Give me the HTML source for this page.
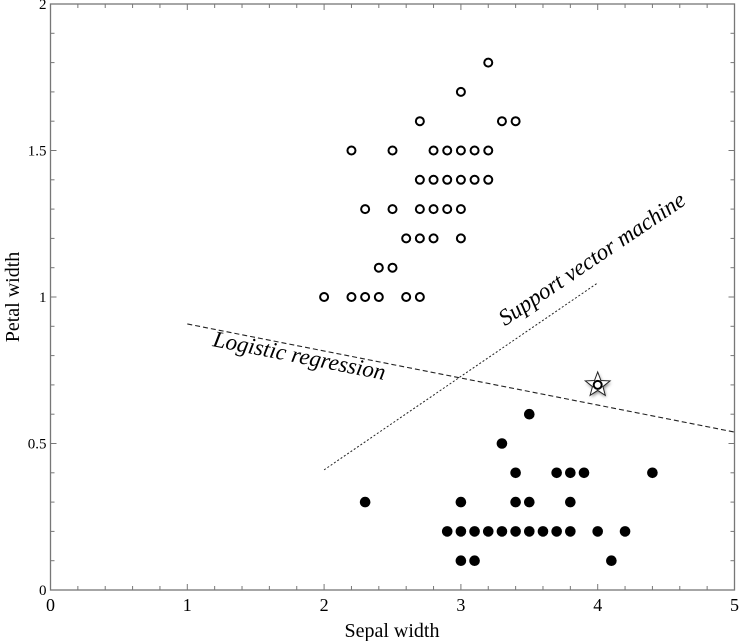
<!DOCTYPE html>
<html><head><meta charset="utf-8"><style>
html,body{margin:0;padding:0;background:#fff;}
svg{display:block;font-family:"Liberation Serif",serif;}
</style></head><body>
<svg id="chart" width="740" height="641" viewBox="0 0 740 641" xmlns="http://www.w3.org/2000/svg">
<defs><filter id="sh" x="-50%" y="-50%" width="200%" height="200%"><feGaussianBlur stdDeviation="1.5"/></filter></defs>
<g id="axes"></g>
<g id="marks"></g>
<text x="392" y="637" font-size="20" text-anchor="middle">Sepal width</text>
<text transform="translate(19,297) rotate(-90)" font-size="20" text-anchor="middle">Petal width</text>
</svg>
<script>
const xTicks=[0,1,2,3,4,5];
const yTicks=[0,0.5,1,1.5,2];
const yTickLabels=["0","0.5","1","1.5","2"];
const openX=[3.2,3.0,2.7,3.3,3.4,2.2,2.5,2.8,2.9,3.0,3.1,3.2,2.7,2.8,2.9,3.0,3.1,3.2,2.3,2.5,2.7,2.8,2.9,3.0,2.6,2.7,2.8,3.0,2.4,2.5,2.0,2.2,2.3,2.4,2.6,2.7];
const openY=[1.8,1.7,1.6,1.6,1.6,1.5,1.5,1.5,1.5,1.5,1.5,1.5,1.4,1.4,1.4,1.4,1.4,1.4,1.3,1.3,1.3,1.3,1.3,1.3,1.2,1.2,1.2,1.2,1.1,1.1,1.0,1.0,1.0,1.0,1.0,1.0];
const filledX=[3.5,3.3,3.4,3.7,3.8,3.9,4.4,2.3,3.0,3.4,3.5,3.8,2.9,3.0,3.1,3.2,3.3,3.4,3.5,3.6,3.7,3.8,4.0,4.2,3.0,3.1,4.1];
const filledY=[0.6,0.5,0.4,0.4,0.4,0.4,0.4,0.3,0.3,0.3,0.3,0.3,0.2,0.2,0.2,0.2,0.2,0.2,0.2,0.2,0.2,0.2,0.2,0.2,0.1,0.1,0.1];
const starPoint=[4.0,0.7];
const logisticLine=[[1,0.908],[5,0.539]];
const svmLine=[[2,0.41],[4,1.048]];
const NS="http://www.w3.org/2000/svg";
const X=v=>50.5+v*136.8, Y=v=>590-v*293;
const axes=document.getElementById('axes'), marks=document.getElementById('marks');
function mk(t,a,p){const e=document.createElementNS(NS,t);for(const k in a)e.setAttribute(k,a[k]);p.appendChild(e);return e;}
let fr=mk('rect',{x:X(0),y:Y(2),width:X(5)-X(0),height:Y(0)-Y(2),fill:'none',stroke:'#777','stroke-width':1.3},axes);


for(let i=0;i<=25;i++){const v=i*0.2,L=(i%5==0)?6:4;
 mk('line',{x1:X(v),x2:X(v),y1:Y(0),y2:Y(0)-L,stroke:'#777'},axes);
 mk('line',{x1:X(v),x2:X(v),y1:Y(2),y2:Y(2)+L,stroke:'#777'},axes);}
for(let i=0;i<=20;i++){const v=i*0.1,L=(i%5==0)?6:4;
 mk('line',{x1:X(0),x2:X(0)+L,y1:Y(v),y2:Y(v),stroke:'#777'},axes);
 mk('line',{x1:X(5),x2:X(5)-L,y1:Y(v),y2:Y(v),stroke:'#777'},axes);}
xTicks.forEach(v=>{const t=mk('text',{x:X(v),y:611,'font-size':18,'text-anchor':'middle'},axes);t.textContent=String(v);
 
 });
yTicks.forEach((v,i)=>{const t=mk('text',{x:X(0)-4,y:Y(v)+5,'font-size':15,'text-anchor':'end'},axes);t.textContent=yTickLabels[i];
 
 });
let l1=mk('line',{x1:X(logisticLine[0][0]),y1:Y(logisticLine[0][1]),x2:X(logisticLine[1][0]),y2:Y(logisticLine[1][1]),stroke:'#222','stroke-width':1.1,'stroke-dasharray':'5,3'},marks);


let l2=mk('line',{x1:X(svmLine[0][0]),y1:Y(svmLine[0][1]),x2:X(svmLine[1][0]),y2:Y(svmLine[1][1]),stroke:'#222','stroke-width':1,'stroke-dasharray':'2,2'},marks);


let t1=mk('text',{transform:'translate(298,363) rotate(11.2)','font-size':23,'font-style':'italic','text-anchor':'middle'},marks);t1.textContent='Logistic regression';


let t2=mk('text',{transform:'translate(596,265) rotate(-34)','font-size':23,'font-style':'italic','text-anchor':'middle'},marks);t2.textContent='Support vector machine';


openX.forEach((v,i)=>{const c=mk('circle',{cx:X(v),cy:Y(openY[i]),r:4,fill:'#fff',stroke:'#000','stroke-width':2},marks);
 
 });
filledX.forEach((v,i)=>{const c=mk('circle',{cx:X(v),cy:Y(filledY[i]),r:5.3,fill:'#000'},marks);
 
 });
const sx=X(starPoint[0]),sy=Y(starPoint[1]);let pts=[];
for(let k=0;k<10;k++){const a=-Math.PI/2+k*Math.PI/5,r=k%2?5.5:13;pts.push((sx+r*Math.cos(a)).toFixed(1)+','+(sy+r*Math.sin(a)).toFixed(1));}
mk('polygon',{points:pts.join(' '),fill:'#888',filter:'url(#sh)',transform:'translate(1,2)'},marks);
let st=mk('polygon',{points:pts.join(' '),fill:'#fff',stroke:'#222','stroke-width':1},marks);


let sc=mk('circle',{cx:sx,cy:sy,r:4,fill:'#fff',stroke:'#000','stroke-width':2},marks);


</script>
</body></html>
